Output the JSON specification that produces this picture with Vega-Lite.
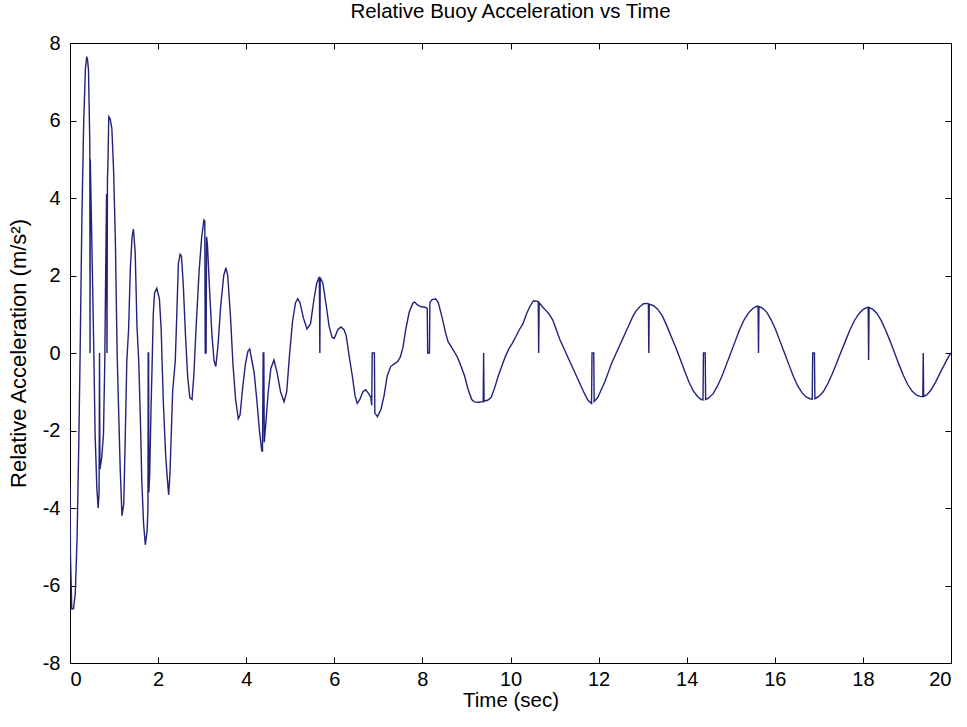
{
  "$schema": "https://vega.github.io/schema/vega-lite/v6.json",
  "width": 881,
  "height": 620,
  "autosize": {"type": "none"},
  "padding": {"left": 70, "top": 43, "right": 16, "bottom": 64},
  "background": "white",
  "title": {"text": "Relative Buoy Acceleration vs Time", "font": "Liberation Sans", "fontSize": 20.5, "fontWeight": "normal", "color": "black", "offset": 11},
  "config": {
    "view": {"stroke": "black", "strokeWidth": 1},
    "axis": {"grid": false, "domainColor": "black", "tickColor": "black", "labelColor": "black", "titleColor": "black", "labelFont": "Liberation Sans", "titleFont": "Liberation Sans", "labelFontSize": 20, "titleFontSize": 20.5, "titleFontWeight": "normal", "tickSize": -6, "tickWidth": 1, "domainWidth": 1}
  },
  "data": {"values": [
    {"t":0.00,"a":-3.4},{"t":0.01,"a":-5.2},{"t":0.04,"a":-6.6},{"t":0.08,"a":-6.6},{"t":0.12,"a":-6.2},{"t":0.16,"a":-4.8},{"t":0.20,"a":-2.3},{"t":0.23,"a":0.0},{"t":0.27,"a":3.5},{"t":0.31,"a":5.9},{"t":0.35,"a":7.35},{"t":0.38,"a":7.65},{"t":0.40,"a":7.55},{"t":0.42,"a":7.3},{"t":0.45,"a":5.4},{"t":0.455,"a":0.0},{"t":0.46,"a":5.0},{"t":0.50,"a":2.6},{"t":0.54,"a":0.1},{"t":0.57,"a":-2.1},{"t":0.61,"a":-3.5},{"t":0.64,"a":-4.0},{"t":0.66,"a":-3.6},{"t":0.67,"a":0.0},{"t":0.68,"a":-3.0},{"t":0.72,"a":-2.7},{"t":0.76,"a":-2.1},{"t":0.79,"a":-0.2},{"t":0.81,"a":2.1},{"t":0.83,"a":4.1},{"t":0.84,"a":0.0},{"t":0.85,"a":4.5},{"t":0.86,"a":4.8},{"t":0.88,"a":6.1},{"t":0.91,"a":6.05},{"t":0.95,"a":5.8},{"t":0.99,"a":4.7},{"t":1.03,"a":2.9},{"t":1.07,"a":0.0},{"t":1.10,"a":-1.3},{"t":1.14,"a":-3.0},{"t":1.18,"a":-4.2},{"t":1.22,"a":-3.9},{"t":1.25,"a":-2.4},{"t":1.29,"a":-0.2},{"t":1.33,"a":0.6},{"t":1.37,"a":2.2},{"t":1.41,"a":3.0},{"t":1.44,"a":3.2},{"t":1.48,"a":2.6},{"t":1.52,"a":0.7},{"t":1.56,"a":-0.2},{"t":1.60,"a":-1.8},{"t":1.63,"a":-3.3},{"t":1.67,"a":-4.4},{"t":1.71,"a":-4.95},{"t":1.75,"a":-4.6},{"t":1.77,"a":-4.0},{"t":1.775,"a":0.0},{"t":1.785,"a":0.0},{"t":1.79,"a":-3.6},{"t":1.81,"a":-3.1},{"t":1.84,"a":-1.4},{"t":1.86,"a":-0.5},{"t":1.89,"a":1.0},{"t":1.92,"a":1.55},{"t":1.97,"a":1.67},{"t":2.03,"a":1.4},{"t":2.07,"a":0.6},{"t":2.09,"a":-0.2},{"t":2.12,"a":-1.3},{"t":2.17,"a":-2.6},{"t":2.20,"a":-3.1},{"t":2.24,"a":-3.66},{"t":2.27,"a":-3.1},{"t":2.33,"a":-1.0},{"t":2.39,"a":-0.2},{"t":2.43,"a":1.2},{"t":2.46,"a":2.3},{"t":2.50,"a":2.55},{"t":2.53,"a":2.5},{"t":2.57,"a":1.8},{"t":2.62,"a":0.5},{"t":2.67,"a":-0.6},{"t":2.72,"a":-1.15},{"t":2.77,"a":-1.2},{"t":2.81,"a":-0.6},{"t":2.86,"a":0.6},{"t":2.93,"a":2.1},{"t":2.99,"a":3.0},{"t":3.04,"a":3.43},{"t":3.06,"a":3.4},{"t":3.07,"a":0.0},{"t":3.09,"a":0.0},{"t":3.10,"a":3.0},{"t":3.12,"a":2.8},{"t":3.17,"a":1.6},{"t":3.22,"a":0.5},{"t":3.27,"a":-0.2},{"t":3.31,"a":-0.35},{"t":3.36,"a":0.2},{"t":3.42,"a":1.2},{"t":3.49,"a":2.0},{"t":3.54,"a":2.2},{"t":3.58,"a":2.0},{"t":3.64,"a":1.0},{"t":3.70,"a":-0.3},{"t":3.76,"a":-1.2},{"t":3.82,"a":-1.7},{"t":3.86,"a":-1.6},{"t":3.92,"a":-0.9},{"t":3.98,"a":-0.3},{"t":4.04,"a":0.05},{"t":4.08,"a":0.1},{"t":4.13,"a":-0.2},{"t":4.18,"a":-0.5},{"t":4.24,"a":-1.2},{"t":4.30,"a":-2.0},{"t":4.35,"a":-2.5},{"t":4.37,"a":-2.55},{"t":4.385,"a":0.0},{"t":4.40,"a":0.0},{"t":4.41,"a":-2.3},{"t":4.44,"a":-1.9},{"t":4.50,"a":-1.0},{"t":4.56,"a":-0.4},{"t":4.63,"a":-0.18},{"t":4.70,"a":-0.5},{"t":4.78,"a":-1.0},{"t":4.86,"a":-1.26},{"t":4.92,"a":-1.0},{"t":4.98,"a":-0.1},{"t":5.05,"a":0.8},{"t":5.12,"a":1.3},{"t":5.17,"a":1.4},{"t":5.22,"a":1.3},{"t":5.30,"a":0.9},{"t":5.38,"a":0.62},{"t":5.46,"a":0.75},{"t":5.54,"a":1.4},{"t":5.60,"a":1.8},{"t":5.66,"a":1.97},{"t":5.672,"a":0.0},{"t":5.68,"a":1.95},{"t":5.74,"a":1.8},{"t":5.82,"a":1.2},{"t":5.88,"a":0.7},{"t":5.95,"a":0.4},{"t":6.00,"a":0.38},{"t":6.08,"a":0.6},{"t":6.15,"a":0.67},{"t":6.22,"a":0.6},{"t":6.27,"a":0.45},{"t":6.34,"a":-0.1},{"t":6.41,"a":-0.6},{"t":6.47,"a":-1.1},{"t":6.52,"a":-1.3},{"t":6.58,"a":-1.2},{"t":6.65,"a":-1.0},{"t":6.71,"a":-0.95},{"t":6.78,"a":-1.05},{"t":6.83,"a":-1.15},{"t":6.85,"a":-1.35},{"t":6.86,"a":0.0},{"t":6.91,"a":0.0},{"t":6.92,"a":-1.55},{"t":6.98,"a":-1.64},{"t":7.06,"a":-1.45},{"t":7.13,"a":-1.1},{"t":7.20,"a":-0.6},{"t":7.28,"a":-0.35},{"t":7.36,"a":-0.28},{"t":7.44,"a":-0.22},{"t":7.50,"a":-0.1},{"t":7.56,"a":0.15},{"t":7.62,"a":0.6},{"t":7.70,"a":1.05},{"t":7.78,"a":1.28},{"t":7.82,"a":1.32},{"t":7.88,"a":1.25},{"t":7.96,"a":1.2},{"t":8.06,"a":1.18},{"t":8.11,"a":1.15},{"t":8.12,"a":0.0},{"t":8.16,"a":0.0},{"t":8.17,"a":1.3},{"t":8.22,"a":1.38},{"t":8.30,"a":1.4},{"t":8.36,"a":1.3},{"t":8.44,"a":0.95},{"t":8.52,"a":0.55},{"t":8.58,"a":0.3},{"t":8.66,"a":0.15},{"t":8.74,"a":0.0},{"t":8.80,"a":-0.12},{"t":8.88,"a":-0.35},{"t":8.96,"a":-0.6},{"t":9.04,"a":-0.95},{"t":9.12,"a":-1.2},{"t":9.18,"a":-1.26},{"t":9.26,"a":-1.27},{"t":9.34,"a":-1.26},{"t":9.38,"a":-1.26},{"t":9.39,"a":0.0},{"t":9.40,"a":-1.24},{"t":9.48,"a":-1.22},{"t":9.56,"a":-1.15},{"t":9.64,"a":-0.9},{"t":9.72,"a":-0.6},{"t":9.80,"a":-0.35},{"t":9.88,"a":-0.1},{"t":9.96,"a":0.1},{"t":10.04,"a":0.25},{"t":10.12,"a":0.42},{"t":10.20,"a":0.6},{"t":10.28,"a":0.75},{"t":10.36,"a":1.0},{"t":10.44,"a":1.2},{"t":10.52,"a":1.35},{"t":10.60,"a":1.34},{"t":10.63,"a":1.32},{"t":10.64,"a":0.0},{"t":10.65,"a":1.3},{"t":10.72,"a":1.2},{"t":10.80,"a":1.1},{"t":10.88,"a":1.0},{"t":10.96,"a":0.85},{"t":11.04,"a":0.6},{"t":11.12,"a":0.35},{"t":11.20,"a":0.15},{"t":11.28,"a":-0.05},{"t":11.36,"a":-0.25},{"t":11.44,"a":-0.45},{"t":11.52,"a":-0.65},{"t":11.60,"a":-0.85},{"t":11.68,"a":-1.05},{"t":11.76,"a":-1.22},{"t":11.84,"a":-1.3},{"t":11.85,"a":0.0},{"t":11.89,"a":0.0},{"t":11.90,"a":-1.25},{"t":11.98,"a":-1.15},{"t":12.06,"a":-0.95},{"t":12.14,"a":-0.75},{"t":12.22,"a":-0.5},{"t":12.30,"a":-0.25},{"t":12.38,"a":-0.05},{"t":12.46,"a":0.15},{"t":12.54,"a":0.35},{"t":12.62,"a":0.55},{"t":12.70,"a":0.75},{"t":12.78,"a":0.95},{"t":12.86,"a":1.1},{"t":12.94,"a":1.2},{"t":13.02,"a":1.27},{"t":13.10,"a":1.28},{"t":13.13,"a":1.27},{"t":13.14,"a":0.0},{"t":13.15,"a":1.26},{"t":13.25,"a":1.22},{"t":13.35,"a":1.12},{"t":13.45,"a":0.95},{"t":13.55,"a":0.7},{"t":13.65,"a":0.42},{"t":13.75,"a":0.15},{"t":13.85,"a":-0.15},{"t":13.95,"a":-0.45},{"t":14.05,"a":-0.75},{"t":14.15,"a":-0.98},{"t":14.25,"a":-1.13},{"t":14.33,"a":-1.2},{"t":14.37,"a":-1.21},{"t":14.38,"a":0.0},{"t":14.42,"a":0.0},{"t":14.43,"a":-1.2},{"t":14.50,"a":-1.16},{"t":14.60,"a":-1.05},{"t":14.70,"a":-0.85},{"t":14.80,"a":-0.6},{"t":14.90,"a":-0.3},{"t":15.00,"a":0.0},{"t":15.10,"a":0.3},{"t":15.20,"a":0.6},{"t":15.30,"a":0.85},{"t":15.40,"a":1.03},{"t":15.50,"a":1.15},{"t":15.58,"a":1.2},{"t":15.62,"a":1.21},{"t":15.63,"a":0.0},{"t":15.64,"a":1.2},{"t":15.72,"a":1.16},{"t":15.82,"a":1.05},{"t":15.92,"a":0.85},{"t":16.02,"a":0.6},{"t":16.12,"a":0.3},{"t":16.22,"a":0.0},{"t":16.32,"a":-0.3},{"t":16.42,"a":-0.6},{"t":16.52,"a":-0.85},{"t":16.62,"a":-1.03},{"t":16.72,"a":-1.14},{"t":16.80,"a":-1.18},{"t":16.85,"a":-1.19},{"t":16.86,"a":0.0},{"t":16.90,"a":0.0},{"t":16.91,"a":-1.18},{"t":17.00,"a":-1.12},{"t":17.10,"a":-1.0},{"t":17.20,"a":-0.8},{"t":17.30,"a":-0.55},{"t":17.40,"a":-0.27},{"t":17.50,"a":0.02},{"t":17.60,"a":0.3},{"t":17.70,"a":0.58},{"t":17.80,"a":0.82},{"t":17.90,"a":1.0},{"t":18.00,"a":1.12},{"t":18.08,"a":1.17},{"t":18.12,"a":1.18},{"t":18.13,"a":-0.18},{"t":18.14,"a":1.17},{"t":18.22,"a":1.13},{"t":18.32,"a":1.02},{"t":18.42,"a":0.83},{"t":18.52,"a":0.58},{"t":18.62,"a":0.3},{"t":18.72,"a":0.0},{"t":18.82,"a":-0.3},{"t":18.92,"a":-0.58},{"t":19.02,"a":-0.82},{"t":19.12,"a":-0.99},{"t":19.22,"a":-1.09},{"t":19.30,"a":-1.12},{"t":19.36,"a":-1.13},{"t":19.37,"a":0.0},{"t":19.38,"a":-1.12},{"t":19.45,"a":-1.08},{"t":19.55,"a":-0.95},{"t":19.65,"a":-0.75},{"t":19.75,"a":-0.52},{"t":19.85,"a":-0.3},{"t":19.95,"a":-0.08},{"t":20.00,"a":0.0}
  ]},
  "layer": [
    {
      "mark": {"type": "line", "color": "#22227a", "strokeWidth": 1.4, "clip": true},
      "encoding": {
        "x": {"field": "t", "type": "quantitative", "scale": {"domain": [0, 20], "nice": false, "zero": false},
              "axis": {"values": [0,2,4,6,8,10,12,14,16,18,20], "title": "Time (sec)", "labelExpr": "datum.value + ''", "labelPadding": 12, "titlePadding": 1, "domain": false}},
        "y": {"field": "a", "type": "quantitative", "scale": {"domain": [-8, 8], "nice": false, "zero": false},
              "axis": {"values": [-8,-6,-4,-2,0,2,4,6,8], "title": "Relative Acceleration (m/s²)", "titleFontSize": 22, "labelExpr": "datum.value + ''", "labelPadding": 16, "titlePadding": 12, "domain": false}}
      }
    },
    {
      "mark": {"type": "line", "strokeOpacity": 0},
      "encoding": {
        "x": {"field": "t", "type": "quantitative", "scale": {"domain": [0, 20], "nice": false, "zero": false},
              "axis": {"orient": "top", "values": [0,2,4,6,8,10,12,14,16,18,20], "labels": false, "title": null, "domain": false}},
        "y": {"field": "a", "type": "quantitative", "scale": {"domain": [-8, 8], "nice": false, "zero": false},
              "axis": {"orient": "right", "values": [-8,-6,-4,-2,0,2,4,6,8], "labels": false, "title": null, "domain": false}}
      }
    }
  ],
  "resolve": {"scale": {"x": "independent", "y": "independent"}, "axis": {"x": "independent", "y": "independent"}}
}
